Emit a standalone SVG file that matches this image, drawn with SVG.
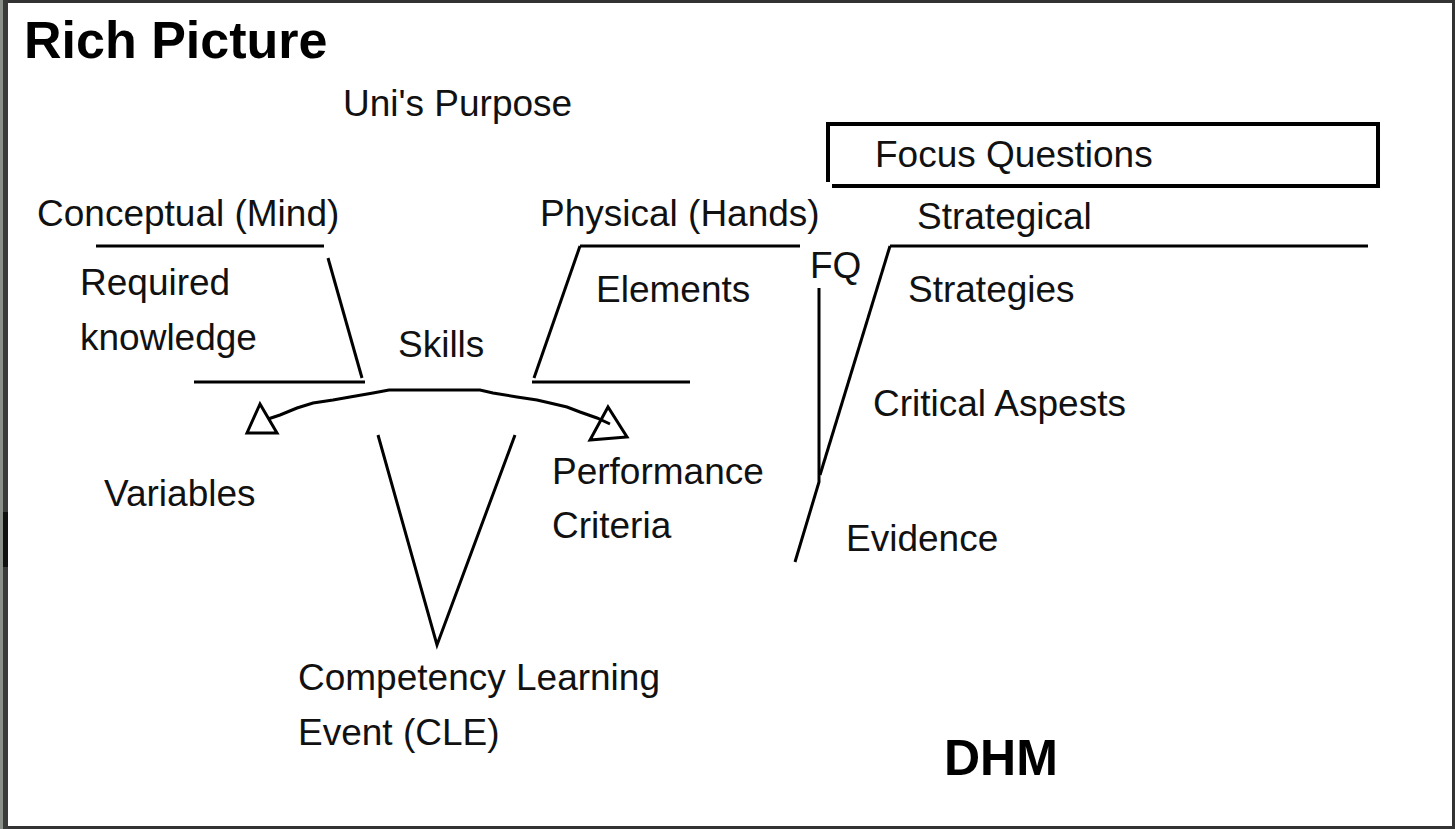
<svg xmlns="http://www.w3.org/2000/svg" width="1455" height="829" viewBox="0 0 1455 829">
<style>
text{font-family:"Liberation Sans",Arial,sans-serif;font-size:37px;fill:#111}
.b{font-weight:bold;fill:#000}
.ln{stroke:#000;stroke-width:3;fill:none}
</style>
<rect x="0" y="0" width="1455" height="829" fill="#fff"/>
<rect x="1.5" y="1.5" width="1452" height="826" fill="none" stroke="#333" stroke-width="3"/>
<rect x="0" y="0" width="3" height="829" fill="#8a8f8a"/>
<rect x="3" y="0" width="5" height="829" fill="#3a3a3a"/>
<rect x="3" y="512" width="5" height="55" fill="#111"/>

<g id="title"><text class="b" x="24" y="58" style="font-size:52px">Rich Picture</text></g>
<g id="unis-purpose"><text x="343" y="116">Uni's Purpose</text></g>
<g id="focus-questions">
<path class="ln" d="M828,182 V124 H1378 V186 H832" style="stroke-width:4"/>
<text x="875" y="167">Focus Questions</text>
</g>
<g id="conceptual"><text x="37" y="226">Conceptual (Mind)</text></g>
<g id="physical"><text x="540" y="226">Physical (Hands)</text></g>
<g id="strategical"><text x="917" y="229">Strategical</text></g>
<g id="fq"><text x="810" y="278">FQ</text></g>
<g id="required-knowledge"><text x="80" y="295">Required</text><text x="80" y="350">knowledge</text></g>
<g id="elements"><text x="596" y="302">Elements</text></g>
<g id="strategies"><text x="908" y="302">Strategies</text></g>
<g id="skills"><text x="398" y="357">Skills</text></g>
<g id="critical-aspests"><text x="873" y="416">Critical Aspests</text></g>
<g id="variables"><text x="104" y="506">Variables</text></g>
<g id="performance-criteria"><text x="552" y="484">Performance</text><text x="552" y="538">Criteria</text></g>
<g id="evidence"><text x="846" y="551">Evidence</text></g>
<g id="cle"><text x="298" y="690">Competency Learning</text><text x="298" y="745">Event (CLE)</text></g>
<g id="dhm"><text class="b" x="944" y="775" style="font-size:50px">DHM</text></g>

<g id="connectors">
<path class="ln" d="M96,246 H324"/>
<path class="ln" d="M328,258 L362,378"/>
<path class="ln" d="M194,382 H365"/>
<path class="ln" d="M580,246 H800"/>
<path class="ln" d="M580,246 L534,378"/>
<path class="ln" d="M532,382 H690"/>
<path class="ln" d="M890,246 H1368"/>
<path class="ln" d="M890,246 L820,475"/>
<path class="ln" d="M819,288 V482 L795,562"/>
<path class="ln" d="M378,435 L437,645 L515,435"/>
<polyline class="ln" points="268,419 280,415 297,408 313,403 333,400 350,397 373,393 389,390 480,390 493,393 517,397 537,400 550,403 567,407 580,412 597,418 610,424"/>
<polygon class="ln" points="260,404 247,433 277,433" fill="#fff"/>
<polygon class="ln" points="608,407 590,440 627,437" fill="#fff"/>
</g>
</svg>
